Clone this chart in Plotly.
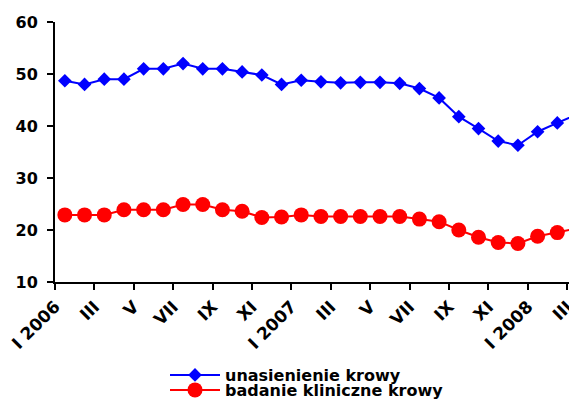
import plotly.graph_objects as go

# miesiące I 2006 - III 2008
months = ['I 2006', 'II 2006', 'III 2006', 'IV 2006', 'V 2006', 'VI 2006',
          'VII 2006', 'VIII 2006', 'IX 2006', 'X 2006', 'XI 2006', 'XII 2006',
          'I 2007', 'II 2007', 'III 2007', 'IV 2007', 'V 2007', 'VI 2007',
          'VII 2007', 'VIII 2007', 'IX 2007', 'X 2007', 'XI 2007', 'XII 2007',
          'I 2008', 'II 2008', 'III 2008']

unasienienie = [48.7, 48.0, 49.0, 49.0, 51.0, 51.0, 52.0, 51.0, 51.0, 50.4,
                49.8, 48.0, 48.8, 48.5, 48.3, 48.4, 48.4, 48.2, 47.2, 45.4,
                41.8, 39.5, 37.1, 36.3, 38.9, 40.6, 42.2]

badanie = [22.9, 22.9, 22.9, 23.9, 23.9, 23.9, 24.9, 24.9, 23.9, 23.6,
           22.4, 22.5, 22.9, 22.6, 22.6, 22.6, 22.6, 22.6, 22.1, 21.6,
           20.0, 18.6, 17.6, 17.4, 18.8, 19.5, 20.3]

tick_labels = ['I 2006', 'III', 'V', 'VII', 'IX', 'XI', 'I 2007', 'III', 'V',
               'VII', 'IX', 'XI', 'I 2008', 'III']

x = list(range(len(months)))
font = dict(family='DejaVu Sans', size=16, color='black', weight='bold')

fig = go.Figure()

fig.add_trace(go.Scatter(
    x=x, y=unasienienie, name='unasienienie krowy', mode='lines+markers',
    line=dict(color='#0000FF', width=2),
    marker=dict(symbol='diamond', size=10.5, color='#0000FF'),
    legend='legend'
))

fig.add_trace(go.Scatter(
    x=x, y=badanie, name='badanie kliniczne krowy', mode='lines+markers',
    line=dict(color='#FF0000', width=2),
    marker=dict(symbol='circle', size=15, color='#FF0000'),
    legend='legend2'
))

fig.update_xaxes(
    range=[-0.5, 26.0],
    tickmode='array',
    tickvals=[i - 0.5 for i in range(0, len(months), 2)],
    ticktext=tick_labels,
    tickangle=-45,
    ticks='outside', ticklen=6, tickwidth=2, tickcolor='black',
    showline=True, linecolor='black', linewidth=2,
    showgrid=False, zeroline=False,
    tickfont=dict(font, size=17), automargin=False,
    ticklabeloverflow='allow'
)

fig.update_yaxes(
    range=[10, 60],
    tickvals=[10, 20, 30, 40, 50, 60],
    ticks='outside', ticklen=6, tickwidth=2, tickcolor='black',
    showline=True, linecolor='black', linewidth=2,
    showgrid=False, zeroline=False,
    tickfont=font, ticklabelstandoff=6, automargin=False
)

leg = dict(xref='container', yref='container', xanchor='left', yanchor='middle',
           font=font, bgcolor='rgba(0,0,0,0)', borderwidth=0, itemwidth=50)

# strona ma 8px marginesu body, stad przesuniecie
fig.update_layout(
    width=577, height=401,
    margin=dict(l=47, r=8, t=14, b=127, autoexpand=False),
    paper_bgcolor='white', plot_bgcolor='white',
    showlegend=True,
    legend=dict(leg, x=157 / 577, y=1 - 367 / 401),
    legend2=dict(leg, x=157 / 577, y=1 - 382 / 401),
)

fig.write_html('out.html')
